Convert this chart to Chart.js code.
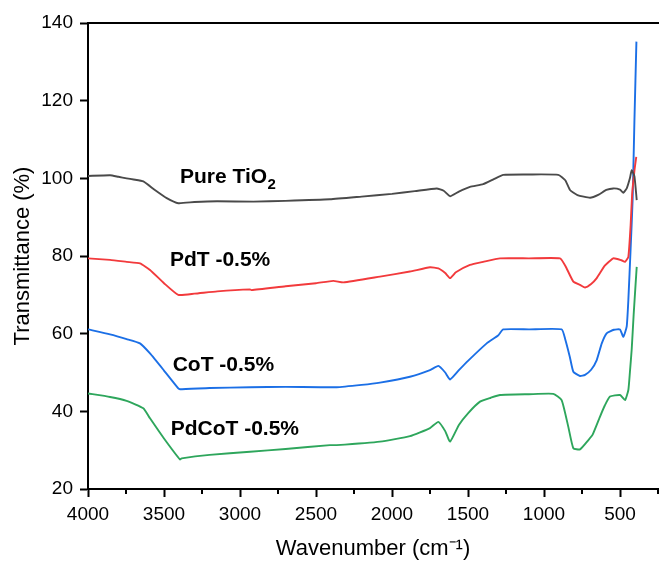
<!DOCTYPE html>
<html><head><meta charset="utf-8">
<script src="https://cdn.jsdelivr.net/npm/chart.js@4/dist/chart.umd.min.js"></script>
<style>html,body{margin:0;padding:0;background:#fff;}canvas{display:block;}</style>
</head><body>
<canvas id="c" width="659" height="562"></canvas>
<script>
// ---- axis ticks ----
const xTicks = [4000, 3500, 3000, 2500, 2000, 1500, 1000, 500];
const xMinorTicks = [3750, 3250, 2750, 2250, 1750, 1250, 750, 250];
const yTicks = [20, 40, 60, 80, 100, 120, 140];

// ---- series: Pure TiO2 ----
const pureWn = [4000,3855,3800,3746,3700,3636,3560,3482,3406,3300,3150,2912,2700,2408,2200,2000,1850,1706,1660,1618,1560,1487,1400,1330,1268,1100,906,860,829,780,697,640,590,544,500,478,455,435,423,405,390];
const pureT  = [100.6,100.8,100.4,100.0,99.7,99.2,97.0,94.9,93.6,93.9,94.1,94.0,94.2,94.6,95.3,96.0,96.7,97.4,96.8,95.4,96.6,97.8,98.5,99.8,100.9,101.0,100.9,99.5,97.0,95.7,95.0,95.8,97.0,97.4,97.1,96.3,97.5,100.0,102.1,100.5,94.4];

// ---- series: PdT -0.5% ----
const pdtWn = [4000,3855,3746,3658,3592,3500,3406,3300,3150,2934,2923,2700,2500,2386,2320,2079,1882,1750,1695,1650,1618,1580,1487,1400,1289,1100,895,860,807,760,730,690,653,600,544,490,467,445,430,420,405,393];
const pdtT  = [79.4,79.0,78.5,78.1,76.4,73.0,70.0,70.3,70.9,71.4,71.2,72.2,73.0,73.6,73.2,74.7,76.0,77.1,76.8,75.6,74.3,75.8,77.7,78.5,79.4,79.4,79.4,77.5,73.4,72.5,71.9,72.8,74.3,77.5,79.4,78.9,78.5,79.8,88.0,96.0,102.0,105.5];

// ---- series: CoT -0.5% ----
const cotWn = [4000,3855,3746,3658,3592,3500,3406,3395,3200,2934,2700,2364,2200,2079,1882,1750,1695,1650,1618,1560,1500,1377,1300,1268,1100,884,860,830,807,763,730,690,653,620,588,540,500,478,456,445,430,417,405,392];
const cotT  = [61.1,59.8,58.6,57.5,54.9,50.5,45.9,45.7,46.0,46.2,46.3,46.2,46.8,47.4,48.9,50.6,51.7,50.0,48.2,50.6,53.0,57.5,59.6,61.1,61.1,61.1,58.5,54.0,50.2,49.1,49.4,50.7,53.2,57.5,60.1,61.0,61.1,59.2,61.8,68.7,82.0,94.4,115.0,135.2];

// ---- series: PdCoT -0.5% ----
const pdcotWn = [4000,3855,3746,3636,3592,3500,3395,3384,3200,2934,2700,2408,2364,2079,1882,1750,1695,1650,1618,1560,1500,1421,1350,1289,1100,939,884,840,807,763,708,680,632,600,566,500,467,445,435,423,410,397,390];
const pdcotT  = [44.6,43.7,42.7,40.8,38.2,33.0,27.6,27.9,28.8,29.6,30.3,31.3,31.3,32.2,33.6,35.7,37.3,34.9,32.2,36.5,39.5,42.5,43.5,44.2,44.4,44.5,42.9,36.0,30.5,30.2,32.6,34.0,38.6,41.5,43.8,44.2,42.9,45.5,50.0,56.0,65.0,73.0,77.2];

// ---- in-plot labels ----
const labelMain = ['Pure TiO', 'PdT -0.5%', 'CoT -0.5%', 'PdCoT -0.5%'];
const labelSub  = ['2', '', '', ''];
const labelWn   = [3395, 3461, 3443, 3456];
const labelT    = [98.7, 77.4, 50.5, 33.9];

const FONT = "'Liberation Sans', Arial, Helvetica, sans-serif";
const toPts = (xs, ys) => xs.map((x, i) => ({x: x, y: ys[i]}));

const lineStyle = (color) => ({borderColor: color, backgroundColor: color, borderWidth: 1.9, pointRadius: 0, tension: 0.15, fill: false});

const topBorder = {
  id: 'topBorder',
  afterDraw(chart) {
    const {ctx, chartArea: a, scales} = chart;
    ctx.save();
    ctx.strokeStyle = '#000';
    ctx.lineWidth = 2;
    ctx.beginPath();
    ctx.moveTo(a.left - 1, a.top);
    ctx.lineTo(a.right + 1, a.top);
    ctx.stroke();
    xMinorTicks.forEach(v => {
      const px = Math.round(scales.x.getPixelForValue(v));
      ctx.beginPath();
      ctx.moveTo(px, a.bottom);
      ctx.lineTo(px, a.bottom + 5);
      ctx.stroke();
    });
    ctx.restore();
  }
};

const seriesLabels = {
  id: 'seriesLabels',
  afterDatasetsDraw(chart) {
    const {ctx, scales} = chart;
    ctx.save();
    ctx.fillStyle = '#000';
    ctx.textBaseline = 'alphabetic';
    ctx.textAlign = 'left';
    labelMain.forEach((t, i) => {
      const px = scales.x.getPixelForValue(labelWn[i]);
      const py = scales.y.getPixelForValue(labelT[i]);
      ctx.font = 'bold 21px ' + FONT;
      ctx.fillText(t, px, py);
      if (labelSub[i]) {
        const w = ctx.measureText(t).width;
        ctx.font = 'bold 15px ' + FONT;
        ctx.fillText(labelSub[i], px + w + 0.5, py + 6);
      }
    });
    ctx.restore();
  }
};

new Chart(document.getElementById('c').getContext('2d'), {
  type: 'line',
  data: {
    datasets: [
      Object.assign({label: 'Pure TiO2', data: toPts(pureWn, pureT)}, lineStyle('#4a4a4a')),
      Object.assign({label: 'PdT -0.5%', data: toPts(pdtWn, pdtT)}, lineStyle('#f23a3c')),
      Object.assign({label: 'CoT -0.5%', data: toPts(cotWn, cotT)}, lineStyle('#1b6fe6')),
      Object.assign({label: 'PdCoT -0.5%', data: toPts(pdcotWn, pdcotT)}, lineStyle('#2ea65c'))
    ]
  },
  options: {
    responsive: false,
    animation: false,
    devicePixelRatio: 1,
    layout: {padding: {left: 0, right: 1, top: 23, bottom: 0}},
    plugins: {legend: {display: false}, tooltip: {enabled: false}},
    scales: {
      x: {
        type: 'linear', reverse: true, min: 250, max: 4000,
        afterBuildTicks: s => { s.ticks = xTicks.map(v => ({value: v})); },
        afterFit: s => { s.height = 73; },
        ticks: {font: {family: FONT, size: 19}, color: '#000', padding: 6, maxRotation: 0, autoSkip: false, callback: v => String(v)},
        grid: {drawOnChartArea: false, tickLength: 8, tickWidth: 2, tickColor: '#000'},
        border: {color: '#000', width: 2},
        title: {display: true, text: 'Wavenumber (cm\u207B\u00B9)', color: '#000', font: {family: FONT, size: 22, lineHeight: 1}, padding: {top: 0, bottom: 2}}
      },
      y: {
        min: 20, max: 140,
        afterBuildTicks: s => { s.ticks = yTicks.map(v => ({value: v})); },
        afterFit: s => { s.width = 88; },
        ticks: {font: {family: FONT, size: 19}, color: '#000', padding: 7, callback: v => String(v)},
        grid: {drawOnChartArea: false, tickLength: 8, tickWidth: 2, tickColor: '#000'},
        border: {color: '#000', width: 2},
        title: {display: true, text: 'Transmittance (%)', color: '#000', font: {family: FONT, size: 22, lineHeight: 1}, padding: {top: 12, bottom: 0}}
      }
    }
  },
  plugins: [topBorder, seriesLabels]
});
</script>
</body></html>
